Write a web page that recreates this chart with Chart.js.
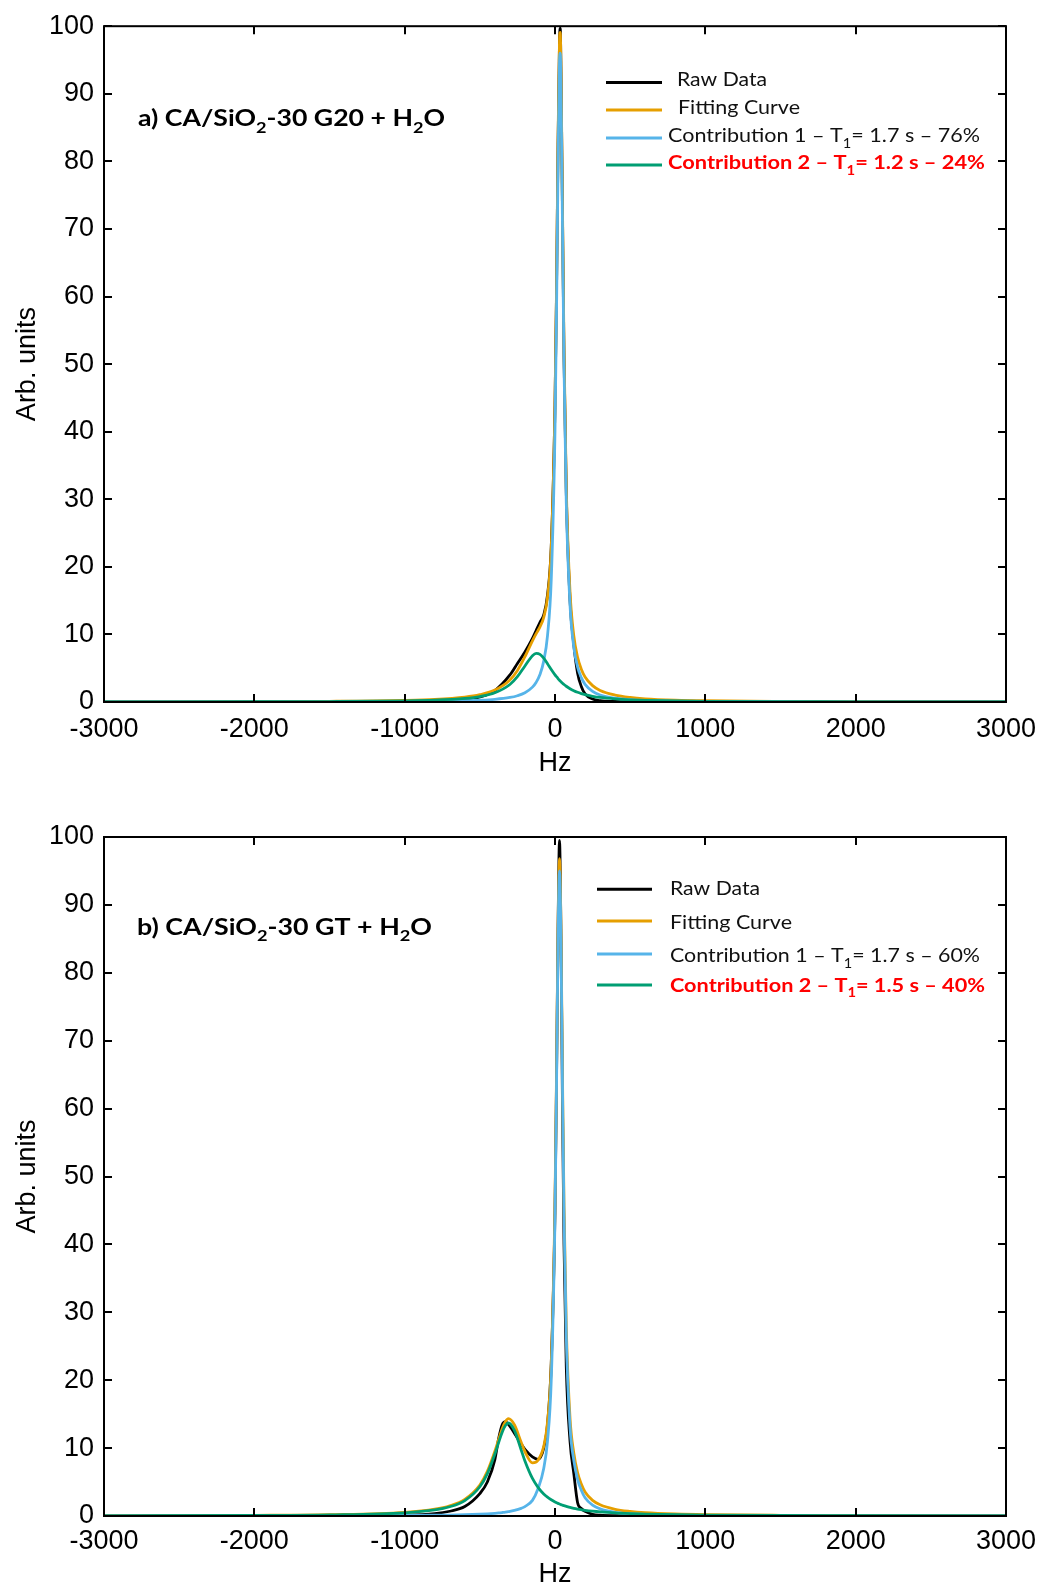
<!DOCTYPE html>
<html>
<head>
<meta charset="utf-8">
<script src="https://cdn.jsdelivr.net/npm/chart.js@4.4.1/dist/chart.umd.min.js"></script>
<style>
  html, body { margin: 0; padding: 0; background: #fff; }
  body { width: 1058px; height: 1589px; position: relative; overflow: hidden; }
  canvas { position: absolute; left: 0; }
</style>
</head>
<body>
<canvas id="top" width="1058" height="790" style="top:0px"></canvas>
<canvas id="bot" width="1058" height="805" style="top:790px"></canvas>
<script>
// ---------------- DATA ----------------
// Panel a) CA/SiO2-30 G20 + H2O
const hzTop = [-3000,-2000,-1500,-1000,-800,-600,-500,-400,-300,-250,-200,-150,-125,-100,-75,-50,-25,0,10,20,30,35,40,50,60,75,100,125,150,175,200,250,300,400,500,600,800,1000,1500,2000,3000];
const rawTop = [0,0.005,0.015,0.07,0.15,0.4,0.75,1.7,4.0,5.7,7.4,9.4,10.6,11.8,12.9,15.8,23.0,44,60.5,82,97.8,99.7,93,72,51,31,15,8.5,4.3,2.3,1.2,0.45,0.2,0.08,0.04,0.02,0.01,0.005,0,0,0];
const fitTop = [0.024,0.055,0.10,0.237,0.38,0.72,1.08,1.76,3.26,4.67,6.70,9.06,10.12,11.12,12.53,15.47,22.9,44.2,61.0,82.5,98.1,99.1,93.4,72.9,52.3,31.8,16.3,9.82,6.64,4.85,3.71,2.42,1.71,1.02,0.67,0.475,0.28,0.183,0.085,0.048,0.022];
const c1Top = [0.0082,0.018,0.032,0.0705,0.108,0.188,0.265,0.40,0.67,0.93,1.37,2.20,2.93,4.07,6.05,9.8,18.1,40.2,57.3,79,94.9,96,90.4,70.1,49.7,29.5,14.3,8.14,5.2,3.6,2.62,1.57,1.04,0.56,0.34,0.23,0.128,0.080,0.035,0.019,0.0085];
const c2Top = [0.0158,0.037,0.068,0.166,0.273,0.53,0.81,1.36,2.59,3.74,5.33,6.86,7.19,7.05,6.48,5.67,4.81,4.02,3.74,3.47,3.22,3.11,2.99,2.78,2.59,2.33,1.97,1.68,1.44,1.25,1.09,0.85,0.67,0.455,0.326,0.245,0.152,0.103,0.050,0.029,0.0135];

// Panel b) CA/SiO2-30 GT + H2O
const hzBot = [-3000,-2000,-1500,-1000,-800,-700,-600,-500,-450,-400,-375,-350,-330,-310,-270,-225,-200,-150,-113,-75,-50,-25,0,10,20,30,40,50,60,75,100,125,150,175,200,250,300,400,500,600,800,1000,1500,2000,3000];
const rawBot = [0,0.01,0.03,0.12,0.35,0.7,1.4,3.3,5.0,8.3,11.4,13.5,13.9,13.5,12.2,10.6,9.8,8.7,8.35,10.0,13.5,22.5,45,64,86,99.5,85,60,40,22,11,6.3,2.0,1.1,0.7,0.25,0.12,0.05,0.02,0.01,0,0,0,0,0];
const fitBot = [0.040,0.098,0.193,0.537,1.00,1.50,2.46,4.57,6.57,9.53,11.28,12.92,13.89,14.34,13.44,10.86,9.50,7.83,8.22,10.25,13.77,22.4,46.3,64.9,86.1,96.8,85.9,64.5,45.7,27.9,14.4,9.3,6.4,4.7,3.54,2.3,1.65,0.99,0.68,0.50,0.31,0.21,0.105,0.062,0.029];
const c1Bot = [0.0081,0.018,0.0318,0.070,0.108,0.14,0.187,0.264,0.322,0.40,0.45,0.514,0.57,0.64,0.82,1.13,1.39,2.3,4.0,7.0,11.0,20.0,44.2,62.9,84.2,95,84.2,62.9,44.2,26.5,13.1,8.2,5.4,3.8,2.7,1.6,1.05,0.54,0.336,0.229,0.125,0.079,0.0345,0.019,0.0084];
const c2Bot = [0.0319,0.080,0.161,0.467,0.895,1.36,2.27,4.31,6.25,9.13,10.83,12.41,13.32,13.7,12.62,9.73,8.11,5.53,4.22,3.25,2.77,2.39,2.07,1.96,1.86,1.77,1.68,1.60,1.52,1.42,1.26,1.13,1.02,0.926,0.84,0.705,0.60,0.446,0.346,0.275,0.186,0.134,0.070,0.043,0.021];

// Axis ranges / tick steps
const xRange = [-3000, 3000];
const xStep = 1000;
const yRange = [0, 100];
const yStep = 10;

// Texts
const seriesNames = ['Raw Data', 'Fitting Curve', 'Contribution 1', 'Contribution 2'];
const legendTop = ['Raw Data', 'Fitting Curve', 'Contribution 1 – T_1= 1.7 s – 76%', 'Contribution 2 – T_1= 1.2 s – 24%'];
const legendBot = ['Raw Data', 'Fitting Curve', 'Contribution 1 – T_1= 1.7 s – 60%', 'Contribution 2 – T_1= 1.5 s – 40%'];
const titleTop = 'a) CA/SiO_2-30 G20 + H_2O';
const titleBot = 'b) CA/SiO_2-30 GT + H_2O';
const xTitle = 'Hz';
const yTitle = 'Arb. units';

// ---------------- STYLE ----------------
const colors = ['#000000', '#E69F00', '#56B4E9', '#009E73'];
const AXFONT = { family: '"Liberation Sans", Arial, sans-serif', size: 27 };

function zip(xs, ys) { return xs.map((x, i) => ({ x: x, y: ys[i] })); }

function parseRich(str) {
  const parts = [];
  const re = /_(\w)/g;
  let last = 0, m;
  while ((m = re.exec(str)) !== null) {
    if (m.index > last) parts.push({ t: str.slice(last, m.index), sub: false });
    parts.push({ t: m[1], sub: true });
    last = re.lastIndex;
  }
  if (last < str.length) parts.push({ t: str.slice(last), sub: false });
  return parts;
}

function drawRich(ctx, str, x, baseline, targetW, size, weight, color) {
  const segs = parseRich(str);
  const fam = 'Lato, "Open Sans", sans-serif';
  const main = weight + ' ' + size + 'px ' + fam;
  const sub = weight + ' ' + (size * 0.68).toFixed(2) + 'px ' + fam;
  ctx.save();
  ctx.fillStyle = color;
  ctx.textBaseline = 'alphabetic';
  ctx.textAlign = 'left';
  let w = 0;
  for (const s of segs) { ctx.font = s.sub ? sub : main; w += ctx.measureText(s.t).width; }
  const k = targetW ? targetW / w : 1;
  ctx.translate(x, baseline);
  ctx.scale(k, 1);
  let cx = 0;
  for (const s of segs) {
    ctx.font = s.sub ? sub : main;
    ctx.fillText(s.t, cx, s.sub ? size * 0.3 : 0);
    cx += ctx.measureText(s.t).width;
  }
  ctx.restore();
}

const framePlugin = {
  id: 'frame',
  afterDatasetsDraw(chart) {
    const ctx = chart.ctx;
    const { left, right, top, bottom } = chart.chartArea;
    const xs = chart.scales.x, ys = chart.scales.y;
    const L = 8;
    ctx.save();
    ctx.strokeStyle = '#000';
    ctx.lineWidth = 2;
    ctx.strokeRect(left, top, right - left, bottom - top);
    ctx.beginPath();
    xs.ticks.forEach(t => {
      const px = Math.round(xs.getPixelForValue(t.value));
      ctx.moveTo(px, bottom); ctx.lineTo(px, bottom - L);
      ctx.moveTo(px, top); ctx.lineTo(px, top + L);
    });
    ys.ticks.forEach(t => {
      const py = Math.round(ys.getPixelForValue(t.value));
      ctx.moveTo(left, py); ctx.lineTo(left + L, py);
      ctx.moveTo(right, py); ctx.lineTo(right - L, py);
    });
    ctx.stroke();
    ctx.restore();
  }
};

function annotPlugin(cfg) {
  return {
    id: 'annot',
    afterDraw(chart) {
      const ctx = chart.ctx;
      const off = cfg.offset;
      drawRich(ctx, cfg.title, cfg.titleX, cfg.titleBase - off, cfg.titleW, 22, 'bold', '#000');
      for (let i = 0; i < 4; i++) {
        const ly = cfg.lineY[i] - off;
        ctx.save();
        ctx.strokeStyle = colors[i];
        ctx.lineWidth = 3;
        ctx.beginPath();
        ctx.moveTo(cfg.lineX[0], ly); ctx.lineTo(cfg.lineX[1], ly);
        ctx.stroke();
        ctx.restore();
        const red = i === 3;
        drawRich(ctx, cfg.legend[i], cfg.textX[i], cfg.textBase[i] - off, cfg.textW[i], 19.5,
          red ? 'bold' : 'normal', red ? '#FF0000' : '#111');
      }
    }
  };
}

function makeChart(id, hz, raw, fit, c1, c2, opt) {
  const series = [raw, fit, c1, c2];
  const datasets = series.map((s, i) => ({
    label: seriesNames[i],
    data: zip(hz, s),
    borderColor: colors[i],
    backgroundColor: colors[i],
    borderWidth: 2.8,
    pointRadius: 0,
    fill: false,
    cubicInterpolationMode: 'monotone',
    order: 4 - i   // raw data underneath, contribution 2 on top
  }));
  return new Chart(document.getElementById(id), {
    type: 'line',
    data: { datasets: datasets },
    options: {
      responsive: false,
      animation: false,
      devicePixelRatio: 1,
      layout: { padding: { left: 0, right: 52, top: opt.padTop, bottom: 0 } },
      plugins: { legend: { display: false }, tooltip: { enabled: false } },
      scales: {
        x: {
          type: 'linear', min: xRange[0], max: xRange[1],
          ticks: { stepSize: xStep, autoSkip: false, maxRotation: 0, color: '#000', font: AXFONT,
                   padding: opt.xTickPad, callback: v => String(v) },
          grid: { display: false, drawTicks: false },
          border: { display: false },
          title: { display: true, text: xTitle, color: '#000', font: AXFONT, padding: { top: 0, bottom: opt.xTitlePad } },
          afterFit: s => { s.height = opt.xHeight; }
        },
        y: {
          type: 'linear', min: yRange[0], max: yRange[1],
          ticks: { stepSize: yStep, color: '#000', font: AXFONT, padding: 10, callback: v => String(v) },
          grid: { display: false, drawTicks: false },
          border: { display: false },
          title: { display: true, text: yTitle, color: '#000', font: AXFONT, padding: { top: 11, bottom: 0 } },
          afterFit: s => { s.width = 104; }
        }
      }
    },
    plugins: [framePlugin, annotPlugin(opt.annot)]
  });
}

makeChart('top', hzTop, rawTop, fitTop, c1Top, c2Top, {
  padTop: 23, xHeight: 88, xTickPad: 11, xTitlePad: 10.5,
  annot: {
    offset: 0, title: titleTop, titleX: 138, titleBase: 126, titleW: 307,
    legend: legendTop,
    lineX: [606, 662], lineY: [82.5, 110, 138, 165],
    textX: [677, 678, 668, 668], textBase: [86, 114, 141.7, 169.3], textW: [90, 122, 312, 317]
  }
});

makeChart('bot', hzBot, rawBot, fitBot, c1Bot, c2Bot, {
  padTop: 47, xHeight: 79, xTickPad: 9, xTitlePad: 4.5,
  annot: {
    offset: 790, title: titleBot, titleX: 137, titleBase: 934.5, titleW: 295,
    legend: legendBot,
    lineX: [597, 652], lineY: [889.3, 921, 954, 985],
    textX: [670, 670, 670, 670], textBase: [895, 929, 961.7, 991.5], textW: [90, 122, 310, 315]
  }
});
</script>
</body>
</html>
